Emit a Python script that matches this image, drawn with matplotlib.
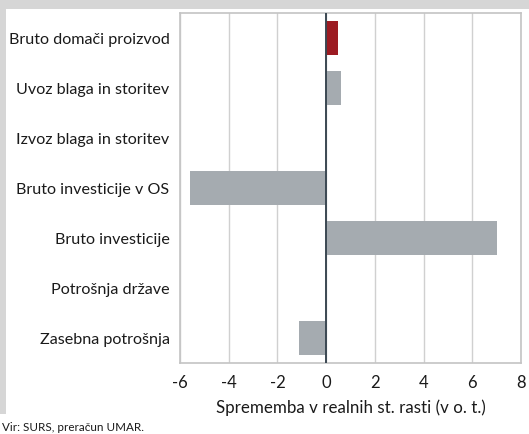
import matplotlib
matplotlib.use("Agg")
import matplotlib.pyplot as plt
from matplotlib.patches import Rectangle

categories = ["Bruto domači proizvod", "Uvoz blaga in storitev", "Izvoz blaga in storitev",
              "Bruto investicije v OS", "Bruto investicije", "Potrošnja države", "Zasebna potrošnja"]
values = [0.5, 0.6, 0.0, -5.6, 7.0, 0.0, -1.1]
colors = ["#9c1b22", "#a5abb0", "#a5abb0", "#a5abb0", "#a5abb0", "#a5abb0", "#a5abb0"]
xticks = [-6, -4, -2, 0, 2, 4, 6, 8]
xlabel = "Sprememba v realnih st. rasti (v o. t.)"
source = "Vir: SURS, preračun UMAR."

plt.rcParams['font.family'] = ['Lato', 'DejaVu Sans']

W, H = 529, 435
fig = plt.figure(figsize=(W / 100, H / 100), dpi=100)
fig.patch.set_facecolor("white")
# gray frame strips
fig.patches.append(Rectangle((0, 1 - 10 / H), 1, 10 / H, transform=fig.transFigure,
                             facecolor="#d6d6d6", edgecolor="none", zorder=0))
fig.patches.append(Rectangle((0, 1 - 415 / H), 6 / W, 415 / H, transform=fig.transFigure,
                             facecolor="#d6d6d6", edgecolor="none", zorder=0))

l, r, t, b = 180 / W, 521 / W, 1 - 14 / H, 1 - 364 / H
ax = fig.add_axes([l, b, r - l, t - b])
y = list(range(len(categories)))
ax.barh(y, values, height=0.68, color=colors, zorder=3)
ax.set_ylim(len(categories) - 0.5, -0.5)
ax.set_xlim(-6, 8)
ax.set_xticks(xticks)
ax.set_xticklabels([str(v) for v in xticks], fontsize=12, color="#1a1a1a")
ax.set_yticks(y)
ax.set_yticklabels(categories, fontsize=11.6, color="#1a1a1a")
ax.tick_params(axis="both", length=0)
ax.tick_params(axis="y", pad=7.5)
ax.tick_params(axis="x", pad=8)
ax.grid(axis="x", color="#d0d0d0", linewidth=1, zorder=1)
ax.axvline(0, color="#3b4852", linewidth=1.4, zorder=4)
for s in ax.spines.values():
    s.set_color("#c4c4c4")
    s.set_linewidth(1.2)
ax.set_xlabel(xlabel, fontsize=12.2, color="#1a1a1a", labelpad=6)

fig.text(2 / W, 1 - 428 / H, source, fontsize=8.4, color="#1a1a1a", va="center", ha="left")

fig.savefig("out.png", dpi=100)
